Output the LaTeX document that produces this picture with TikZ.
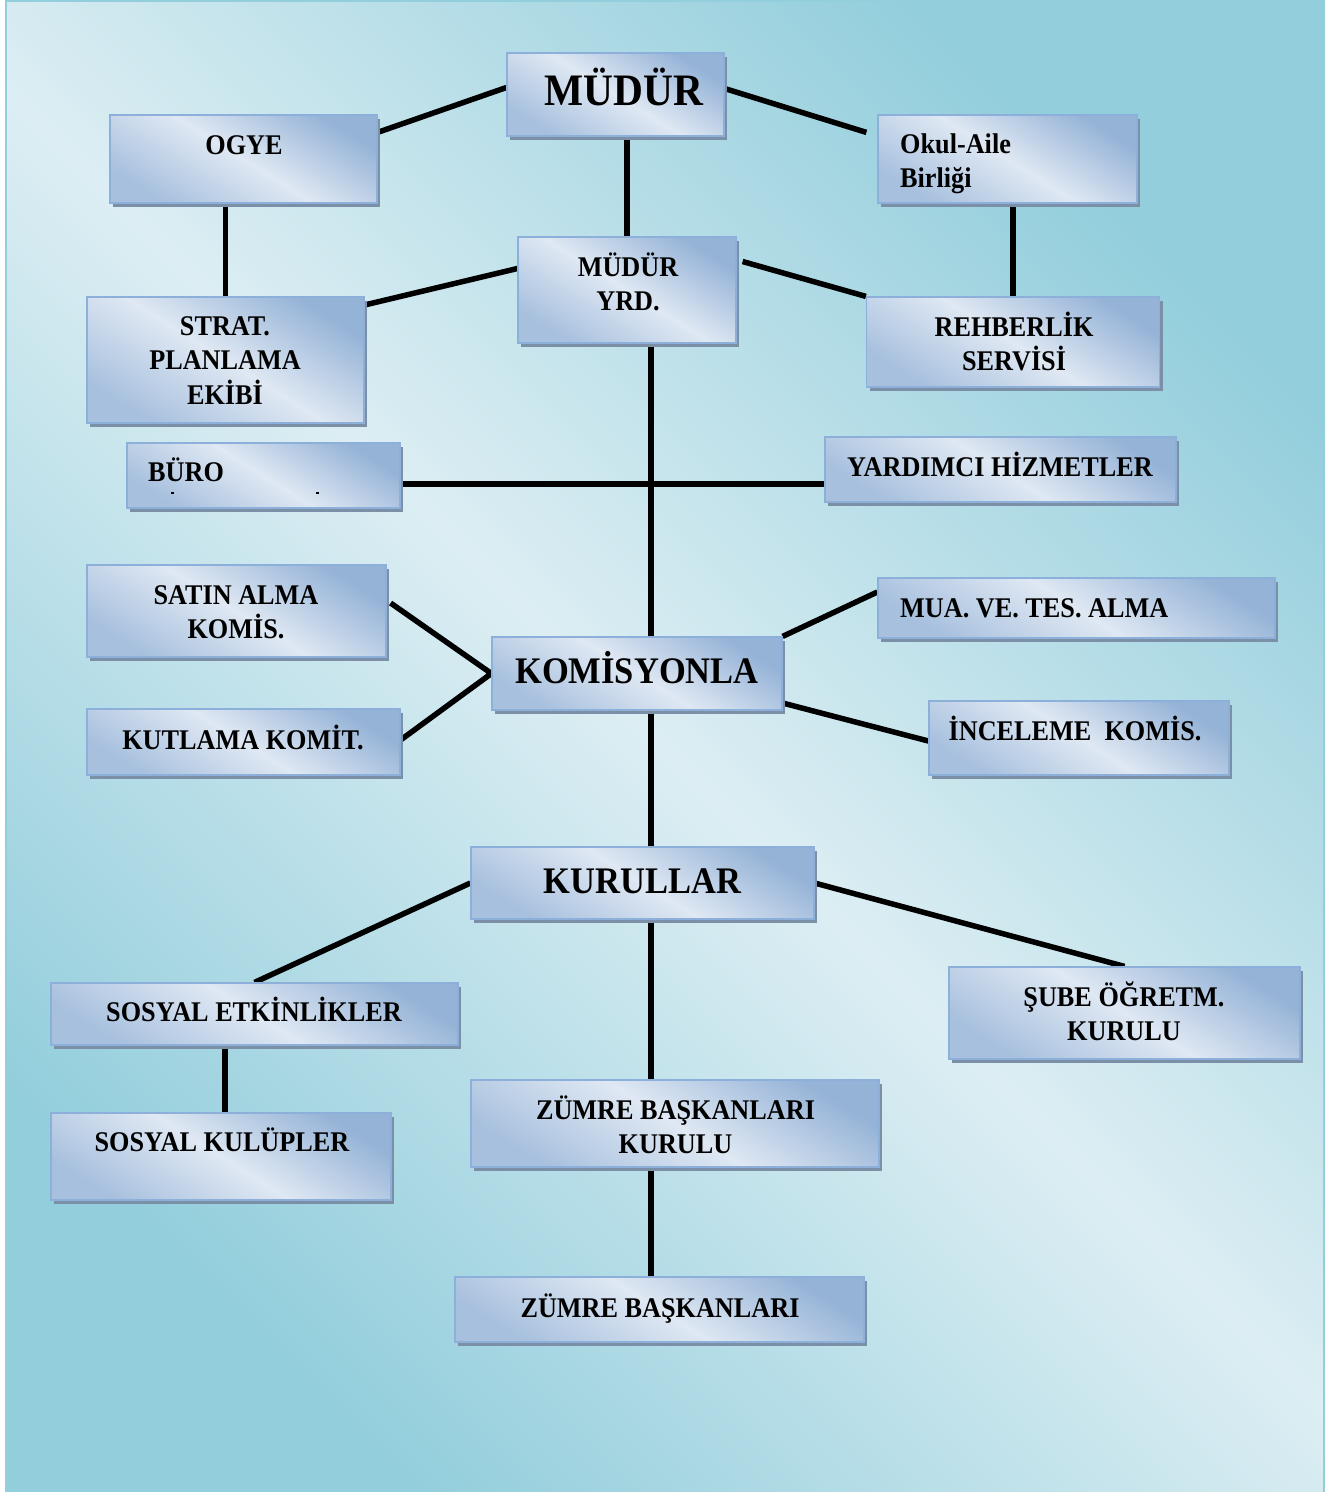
\documentclass[tikz,border=0pt]{standalone}
\usepackage{fontspec}
\setmainfont{Liberation Serif}[FakeStretch=0.92]
\usetikzlibrary{shadows,calc}
\definecolor{bgteal}{HTML}{93CEDC}
\definecolor{bglight}{HTML}{DCEEF3}
\definecolor{kutumavi}{HTML}{95B3D7}
\definecolor{kutuacik}{HTML}{DFE8F3}
\definecolor{kenar}{HTML}{8DB0DA}
\definecolor{golge}{HTML}{7B8FA6}
\pgfdeclarelayer{arka}
\pgfdeclarelayer{hatlar}
\pgfsetlayers{arka,hatlar,main}
\begin{document}
\begin{tikzpicture}[x=1pt,y=-1pt,
    kutu/.style={draw=kenar,line width=1.2pt,inner sep=0pt,
        top color=kutumavi,bottom color=kutumavi!75!kutuacik,middle color=kutuacik,shading angle=-32,
        drop shadow={shadow xshift=3pt,shadow yshift=-4pt,fill=golge,opacity=1}},
    yazi/.style={font=\bfseries\fontsize{28.5}{34.5}\selectfont,anchor=base,align=center,inner sep=0pt},
    buyuk/.style={yazi,font=\bfseries\fontsize{37.5}{40}\selectfont},
    hat/.style={line width=5.5pt}]
\useasboundingbox (0,0) rectangle (1335,1492);
\begin{pgfonlayer}{arka}
    \fill[white] (0,0) rectangle (1335,1492);
    \draw[bgteal,line width=2.5pt,top color=bgteal,bottom color=bgteal,middle color=bglight,shading angle=-45]
        (6,1) rectangle (1324,1500);
\end{pgfonlayer}
% kutular
\node[kutu,minimum width=217pt,minimum height=83pt] (mudur) at (615.5,94.5) {};
\node[kutu,minimum width=267pt,minimum height=88pt] (ogye) at (243.5,159) {};
\node[kutu,minimum width=259pt,minimum height=88pt] (okul) at (1007.5,159) {};
\node[kutu,minimum width=218pt,minimum height=106pt] (yrd) at (627,290) {};
\node[kutu,minimum width=277pt,minimum height=126pt] (strat) at (225.5,360) {};
\node[kutu,minimum width=293pt,minimum height=90pt] (rehber) at (1013,342) {};
\node[kutu,minimum width=273pt,minimum height=65pt] (buro) at (263.5,475.5) {};
\node[kutu,minimum width=351pt,minimum height=65pt] (yard) at (1000.5,469.5) {};
\node[kutu,minimum width=299pt,minimum height=92pt] (satin) at (236.5,611) {};
\node[kutu,minimum width=290pt,minimum height=73pt] (komis) at (637,673.5) {};
\node[kutu,minimum width=397pt,minimum height=60pt] (mua) at (1076.5,608) {};
\node[kutu,minimum width=313pt,minimum height=66pt] (kutlama) at (243.5,742) {};
\node[kutu,minimum width=300pt,minimum height=74pt] (incel) at (1079,738) {};
\node[kutu,minimum width=343pt,minimum height=72pt] (kurul) at (642.5,883) {};
\node[kutu,minimum width=407pt,minimum height=62pt] (sosyal) at (254.5,1014) {};
\node[kutu,minimum width=351pt,minimum height=92pt] (sube) at (1124.5,1013) {};
\node[kutu,minimum width=340pt,minimum height=87pt] (kulup) at (221,1156.5) {};
\node[kutu,minimum width=408pt,minimum height=87pt] (zbk) at (675,1123.5) {};
\node[kutu,minimum width=409pt,minimum height=65pt] (zb) at (659.5,1309.5) {};
% yazilar (cok satirli olanlar son satirin tabanina gore)
\node[yazi,font=\bfseries\fontsize{45}{48}\selectfont] (mudur-y) at (624,105) {MÜDÜR};
\node[yazi] (ogye-y) at (244,154) {OGYE};
\node[yazi,anchor=base west,align=left] (okul-y) at (900,187.5) {Okul-Aile\\Birliği};
\node[yazi] (yrd-y) at (628,310.5) {MÜDÜR\\YRD.};
\node[yazi] (strat-y) at (225,404) {STRAT.\\PLANLAMA\\EKİBİ};
\node[yazi] (rehber-y) at (1014,370.5) {REHBERLİK\\SERVİSİ};
\node[yazi,anchor=base west] (buro-y) at (148,481) {BÜRO};
\node[yazi] (yard-y) at (1000,476) {YARDIMCI HİZMETLER};
\node[yazi] (satin-y) at (236,638.5) {SATIN ALMA\\KOMİS.};
\node[buyuk] (komis-y) at (637,683.5) {KOMİSYONLA};
\node[yazi,anchor=base west] (mua-y) at (900,617) {MUA. VE. TES. ALMA};
\node[yazi] (kutlama-y) at (243,749) {KUTLAMA KOMİT.};
\node[yazi] (incel-y) at (1075,740) {İNCELEME~ KOMİS.};
\node[buyuk] (kurul-y) at (642.5,893.5) {KURULLAR};
\node[yazi] (sosyal-y) at (254,1021) {SOSYAL ETKİNLİKLER};
\node[yazi] (sube-y) at (1124,1040.5) {ŞUBE ÖĞRETM.\\KURULU};
\node[yazi] (kulup-y) at (222,1151) {SOSYAL KULÜPLER};
\node[yazi] (zbk-y) at (675.5,1153.5) {ZÜMRE BAŞKANLARI\\KURULU};
\node[yazi] (zb-y) at (660,1317) {ZÜMRE BAŞKANLARI};
\fill ([xshift=-93pt,yshift=-16pt]buro.center) rectangle +(3,2);
\fill ([xshift=52pt,yshift=-16pt]buro.center) rectangle +(3,2);
% baglantilar
\begin{pgfonlayer}{hatlar}
\draw[hat] ([yshift=7pt]mudur.west) -- ([yshift=-18pt]ogye.north east);
\draw[hat] ([yshift=6pt]mudur.east) -- ([xshift=-11pt,yshift=-18pt]okul.north west);
\draw[hat] (yrd.north |- mudur.south) -- (yrd.north);
\draw[hat] (strat.north |- ogye.south) -- (strat.north);
\draw[hat] (rehber.north |- okul.south) -- (rehber.north);
\draw[hat] ([yshift=21.5pt]yrd.west) -- ([yshift=55pt]strat.east);
\draw[hat] ([xshift=6pt,yshift=28.5pt]yrd.east) -- (rehber.north west);
\draw[hat] ([xshift=14pt]komis.north) coordinate (k1) -- (k1 |- yrd.south);
\draw[hat] ([yshift=-8.5pt]buro.east) coordinate (b1) -- (b1 -| yard.west);
\draw[hat] ([xshift=4pt,yshift=8pt]satin.east) -- (komis.west) -- ([yshift=2pt]kutlama.east);
\draw[hat] (komis.north east) -- ([yshift=16pt]mua.west);
\draw[hat] ([yshift=-29.5pt]komis.east) -- ([yshift=-3pt]incel.west);
\draw[hat] ([xshift=8.5pt]kurul.north) coordinate (k2) -- (k2 |- komis.south);
\draw[hat] (kurul.west) -- (sosyal.north);
\draw[hat] (kurul.east) -- (sube.north);
\draw[hat] ([xshift=-24pt]zbk.north) coordinate (k3) -- (k3 |- kurul.south);
\draw[hat] ([xshift=4pt]kulup.north) coordinate (k4) -- (k4 |- sosyal.south);
\draw[hat] ([xshift=-8.5pt]zb.north) coordinate (k5) -- (k5 |- zbk.south);
\end{pgfonlayer}
\end{tikzpicture}
\end{document}
